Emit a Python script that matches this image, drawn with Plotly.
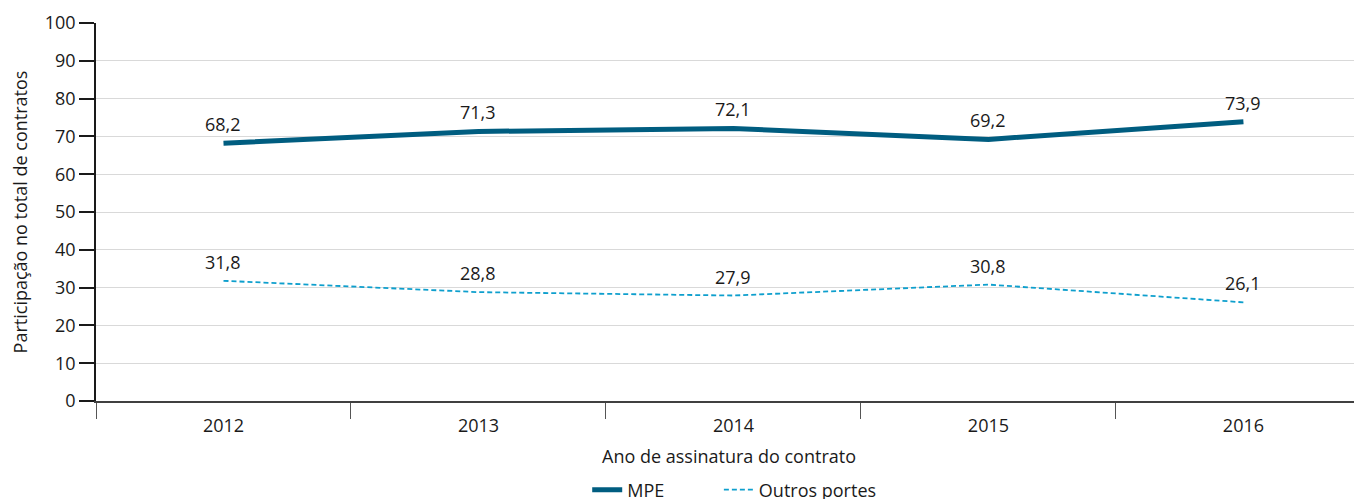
import plotly.graph_objects as go

anos = ["2012", "2013", "2014", "2015", "2016"]
mpe = [68.2, 71.3, 72.1, 69.2, 73.9]
outros = [31.8, 28.8, 27.9, 30.8, 26.1]
y_ticks = [0, 10, 20, 30, 40, 50, 60, 70, 80, 90, 100]

xs = list(range(len(anos)))
fmt = lambda v: f"{v:.1f}".replace(".", ",")

FONT = "Open Sans"
FS = 18
fig = go.Figure()
fig.add_trace(go.Scatter(
    x=xs, y=mpe, name="MPE", mode="lines",
    line=dict(color="#005d80", width=5), legend="legend",
))
fig.add_trace(go.Scatter(
    x=xs, y=outros, name="Outros portes", mode="lines",
    line=dict(color="#0e9fcd", width=1.8, dash="5px,3px"), legend="legend2",
))

for serie in (mpe, outros):
    for xv, yv in zip(xs, serie):
        fig.add_annotation(x=xv, y=yv, text=fmt(yv), showarrow=False,
                           xanchor="center", yanchor="bottom", yshift=5,
                           font=dict(size=FS, color="#1a1a1a", family=FONT))

leg_common = dict(orientation="h", yanchor="middle", y=-0.2354,
                  font=dict(size=FS), borderwidth=0, bgcolor="rgba(0,0,0,0)")

fig.update_layout(
    width=1354, height=505,
    margin=dict(l=88, r=0, t=15, b=112),
    paper_bgcolor="white", plot_bgcolor="white",
    font=dict(family=FONT, size=FS, color="#1a1a1a"),
    showlegend=True,
    legend=dict(x=0.388, xanchor="left", **leg_common),
    legend2=dict(x=0.492, xanchor="left", **leg_common),
    xaxis=dict(
        range=[-0.5, 4.465], tickmode="array", tickvals=xs, ticktext=anos,
        ticks="", showgrid=False, zeroline=False,
        showline=True, linecolor="#404040", linewidth=1.5,
        tickfont=dict(size=FS), ticklabelstandoff=8,
        minor=dict(tickmode="array", tickvals=[-0.5, 0.5, 1.5, 2.5, 3.5, 4.5],
                   ticks="outside", ticklen=16, tickcolor="#555555", tickwidth=1, showgrid=False),
        title=dict(text="Ano de assinatura do contrato", font=dict(size=FS), standoff=14),
        automargin=False,
    ),
    yaxis=dict(
        range=[0, 100], tickmode="array", tickvals=y_ticks,
        ticks="outside", ticklen=15, tickcolor="#1a1a1a", tickwidth=1.5,
        showgrid=True, gridcolor="#d9d9d9", gridwidth=1, zeroline=False,
        showline=True, linecolor="#1a1a1a", linewidth=1.5,
        tickfont=dict(size=FS),
        title=dict(text="Participação no total de contratos", font=dict(size=FS), standoff=14),
        automargin=False,
    ),
)

fig.write_html("out.html")
